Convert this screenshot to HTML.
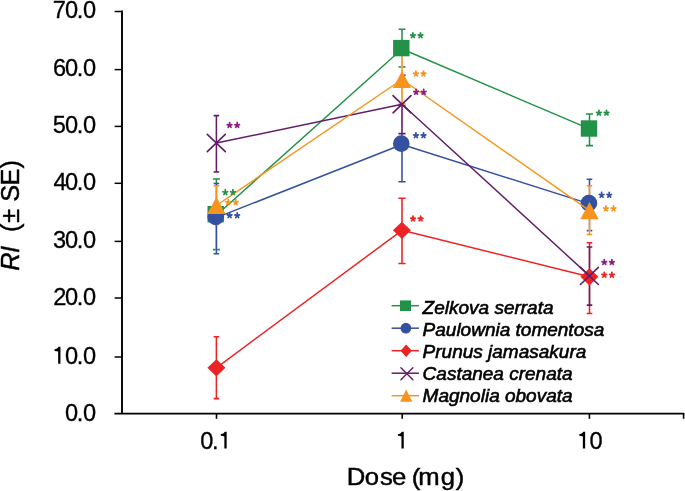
<!DOCTYPE html>
<html><head><meta charset="utf-8"><style>
html,body{margin:0;padding:0;background:#fff;width:685px;height:491px;overflow:hidden}
svg{display:block}
text{font-family:"Liberation Sans",sans-serif;fill:#000}
svg{will-change:transform}
.tl{font-size:23.6px;stroke:#000;stroke-width:0.3px}
.at{font-size:24px;stroke:#000;stroke-width:0.45px}
.at2{font-size:25.3px;stroke:#000;stroke-width:0.45px}
.lg{font-size:19px;font-style:italic;stroke:#000;stroke-width:0.6px}
</style></head><body>
<svg width="685" height="491" viewBox="0 0 685 491">
<line x1="122" y1="10.6" x2="122" y2="413.6" stroke="#000" stroke-width="1.9"/>
<line x1="114.4" y1="413.6" x2="684.4" y2="413.6" stroke="#000" stroke-width="1.6"/>
<line x1="114.6" y1="11.50" x2="122" y2="11.50" stroke="#000" stroke-width="1.5"/>
<line x1="114.6" y1="69.60" x2="122" y2="69.60" stroke="#000" stroke-width="1.5"/>
<line x1="114.6" y1="126.40" x2="122" y2="126.40" stroke="#000" stroke-width="1.5"/>
<line x1="114.6" y1="183.30" x2="122" y2="183.30" stroke="#000" stroke-width="1.5"/>
<line x1="114.6" y1="241.40" x2="122" y2="241.40" stroke="#000" stroke-width="1.5"/>
<line x1="114.6" y1="298.00" x2="122" y2="298.00" stroke="#000" stroke-width="1.5"/>
<line x1="114.6" y1="357.00" x2="122" y2="357.00" stroke="#000" stroke-width="1.5"/>
<line x1="216.5" y1="413.6" x2="216.5" y2="418.8" stroke="#000" stroke-width="1.6"/>
<line x1="402.2" y1="413.6" x2="402.2" y2="418.8" stroke="#000" stroke-width="1.6"/>
<line x1="589.4" y1="413.6" x2="589.4" y2="418.8" stroke="#000" stroke-width="1.6"/>
<line x1="683.6" y1="413.6" x2="683.6" y2="418.8" stroke="#000" stroke-width="1.6"/>
<text x="52.70 64.88 76.65 82.88" y="18.20" class="tl">70.0</text>
<text x="52.91 64.88 76.65 82.88" y="75.67" class="tl">60.0</text>
<text x="52.77 64.88 76.65 82.88" y="133.14" class="tl">50.0</text>
<text x="53.59 64.88 76.65 82.88" y="190.21" class="tl">40.0</text>
<text x="52.91 64.88 76.65 82.88" y="248.08" class="tl">30.0</text>
<text x="53.19 64.88 76.65 82.88" y="305.25" class="tl">20.0</text>
<path d="M60.45 346.82V363.72H58.15V351.52Q56.90 351.02 54.60 350.92V349.32Q57.50 349.02 58.70 346.82Z" fill="#000"/>
<text x="64.88 76.65 82.88" y="363.72" class="tl">0.0</text>
<text x="64.88 76.65 82.88" y="420.99" class="tl">0.0</text>
<text x="200.28 212.05" y="448.6" class="tl">0.</text>
<path d="M226.65 431.70V448.60H224.35V436.40Q223.10 435.90 220.80 435.80V434.20Q223.70 433.90 224.90 431.70Z" fill="#000"/>
<path d="M403.75 431.70V448.60H401.45V436.40Q400.20 435.90 397.90 435.80V434.20Q400.80 433.90 402.00 431.70Z" fill="#000"/>
<path d="M585.15 431.70V448.60H582.85V436.40Q581.60 435.90 579.30 435.80V434.20Q582.20 433.90 583.40 431.70Z" fill="#000"/>
<text x="589.58" y="448.6" class="tl">0</text>
<text transform="scale(1.07,1)" x="324.01 340.95 355.22 366.28 373.83 384.77 390.94 411.89 426.02" y="485.1" class="at">Dose (mg)</text>
<text transform="translate(19.0,0) rotate(-90)" y="0" class="at2"><tspan x="-270.66 -252.98" font-style="italic">RI</tspan><tspan x="-240 -235 -231.92 -222.78 -210 -201.8 -185.4 -168.55">&#160;&#160;(± SE)</tspan></text>
<path d="M216.4 179.0V249.6" stroke="#fff" stroke-width="1.7" fill="none"/>
<path d="M216.4 179.0V249.6M212.90 179.0H219.90M212.90 249.6H219.90" stroke="#229248" stroke-width="1.55" fill="none"/>
<path d="M402.0 29.2V66.9" stroke="#fff" stroke-width="1.7" fill="none"/>
<path d="M402.0 29.2V66.9M398.50 29.2H405.50M398.50 66.9H405.50" stroke="#229248" stroke-width="1.55" fill="none"/>
<path d="M589.5 114.0V145.6" stroke="#fff" stroke-width="1.7" fill="none"/>
<path d="M589.5 114.0V145.6M586.00 114.0H593.00M586.00 145.6H593.00" stroke="#229248" stroke-width="1.55" fill="none"/>
<path d="M216.4 183.4V253.7" stroke="#fff" stroke-width="1.7" fill="none"/>
<path d="M216.4 183.4V253.7M213.60 183.4H219.20M213.60 253.7H219.20" stroke="#3450a0" stroke-width="1.55" fill="none"/>
<path d="M402.0 105.7V181.7" stroke="#fff" stroke-width="1.7" fill="none"/>
<path d="M402.0 105.7V181.7M398.40 105.7H405.60M398.40 181.7H405.60" stroke="#3450a0" stroke-width="1.55" fill="none"/>
<path d="M589.5 179.3V230.6" stroke="#fff" stroke-width="1.7" fill="none"/>
<path d="M589.5 179.3V230.6M586.70 179.3H592.30M586.70 230.6H592.30" stroke="#3450a0" stroke-width="1.55" fill="none"/>
<path d="M216.4 336.7V398.6" stroke="#fff" stroke-width="1.7" fill="none"/>
<path d="M216.4 336.7V398.6M213.60 336.7H219.20M213.60 398.6H219.20" stroke="#ec2224" stroke-width="1.55" fill="none"/>
<path d="M402.0 198.2V263.5" stroke="#fff" stroke-width="1.7" fill="none"/>
<path d="M402.0 198.2V263.5M398.40 198.2H405.60M398.40 263.5H405.60" stroke="#ec2224" stroke-width="1.55" fill="none"/>
<path d="M589.5 242.8V313.4" stroke="#fff" stroke-width="1.7" fill="none"/>
<path d="M589.5 242.8V313.4M586.70 242.8H592.30M586.70 313.4H592.30" stroke="#ec2224" stroke-width="1.55" fill="none"/>
<path d="M216.4 115.6V171.9" stroke="#fff" stroke-width="1.7" fill="none"/>
<path d="M216.4 115.6V171.9M213.60 115.6H219.20M213.60 171.9H219.20" stroke="#621d67" stroke-width="1.55" fill="none"/>
<path d="M402.0 75.3V133.6" stroke="#fff" stroke-width="1.7" fill="none"/>
<path d="M402.0 75.3V133.6M400.20 75.3H405.60M398.40 133.6H405.60" stroke="#621d67" stroke-width="1.55" fill="none"/>
<path d="M589.5 246.9V305.1" stroke="#fff" stroke-width="1.7" fill="none"/>
<path d="M589.5 246.9V305.1M586.70 246.9H592.30M586.70 305.1H592.30" stroke="#621d67" stroke-width="1.55" fill="none"/>
<path d="M216.4 185.8V224.4" stroke="#fff" stroke-width="1.7" fill="none"/>
<path d="M216.4 185.8V224.4M213.60 185.8H219.20M213.60 224.4H219.20" stroke="#f7941e" stroke-width="1.55" fill="none"/>
<path d="M402.0 55.0V104.0" stroke="#fff" stroke-width="1.7" fill="none"/>
<path d="M402.0 55.0V104.0M398.40 55.0H405.60M398.40 104.0H405.60" stroke="#f7941e" stroke-width="1.55" fill="none"/>
<path d="M589.5 185.7V234.4" stroke="#fff" stroke-width="1.7" fill="none"/>
<path d="M589.5 185.7V234.4M586.70 185.7H592.30M586.70 234.4H592.30" stroke="#f7941e" stroke-width="1.55" fill="none"/>
<polyline points="216.40,215.20 402.00,49.00 589.50,128.90" stroke="#229248" stroke-width="1.45" fill="none" stroke-linejoin="round"/>
<rect x="207.50" y="206.00" width="16.4" height="16.4" fill="#229248"/>
<rect x="393.10" y="39.90" width="16.4" height="16.4" fill="#229248"/>
<rect x="580.80" y="120.30" width="16.4" height="16.4" fill="#229248"/>
<polyline points="216.40,217.70 402.00,144.50 589.50,203.90" stroke="#3450a0" stroke-width="1.45" fill="none" stroke-linejoin="round"/>
<circle cx="215.70" cy="216.90" r="8.35" fill="#3450a0"/>
<circle cx="401.30" cy="143.70" r="8.35" fill="#3450a0"/>
<circle cx="588.90" cy="203.20" r="8.35" fill="#3450a0"/>
<polyline points="216.40,367.80 402.00,230.30 589.50,276.80" stroke="#ec2224" stroke-width="1.45" fill="none" stroke-linejoin="round"/>
<path d="M216.40 359.20L225.40 367.80L216.40 376.40L207.40 367.80Z" fill="#ec2224"/>
<path d="M401.90 221.70L410.90 230.30L401.90 238.90L392.90 230.30Z" fill="#ec2224"/>
<path d="M589.40 268.20L598.40 276.80L589.40 285.40L580.40 276.80Z" fill="#ec2224"/>
<polyline points="216.40,143.00 402.00,104.20 589.50,275.90" stroke="#621d67" stroke-width="1.45" fill="none" stroke-linejoin="round"/>
<path d="M207.30 134.40L225.30 151.60M207.30 151.60L225.30 134.40" stroke="#621d67" stroke-width="1.6" stroke-linecap="round"/>
<path d="M393.00 95.60L411.00 112.80M393.00 112.80L411.00 95.60" stroke="#621d67" stroke-width="1.6" stroke-linecap="round"/>
<path d="M580.40 267.30L598.40 284.50M580.40 284.50L598.40 267.30" stroke="#621d67" stroke-width="1.6" stroke-linecap="round"/>
<polyline points="216.40,205.50 402.00,79.50 589.50,210.60" stroke="#f7941e" stroke-width="1.45" fill="none" stroke-linejoin="round"/>
<path d="M216.40 196.90L225.60 214.10L207.20 214.10Z" fill="#f7941e"/>
<path d="M402.00 70.90L411.20 88.10L392.80 88.10Z" fill="#f7941e"/>
<path d="M589.50 202.00L598.70 219.20L580.30 219.20Z" fill="#f7941e"/>
<path d="M225.30 192.50L225.30 189.70M225.30 192.50L227.58 191.76M225.30 192.50L226.71 194.44M225.30 192.50L223.89 194.44M225.30 192.50L223.02 191.76" stroke="#229248" stroke-width="1.75" stroke-linecap="round" fill="none"/>
<path d="M232.90 192.50L232.90 189.70M232.90 192.50L235.18 191.76M232.90 192.50L234.31 194.44M232.90 192.50L231.49 194.44M232.90 192.50L230.62 191.76" stroke="#229248" stroke-width="1.75" stroke-linecap="round" fill="none"/>
<path d="M228.20 202.50L228.20 199.70M228.20 202.50L230.48 201.76M228.20 202.50L229.61 204.44M228.20 202.50L226.79 204.44M228.20 202.50L225.92 201.76" stroke="#f7941e" stroke-width="1.75" stroke-linecap="round" fill="none"/>
<path d="M235.80 202.50L235.80 199.70M235.80 202.50L238.08 201.76M235.80 202.50L237.21 204.44M235.80 202.50L234.39 204.44M235.80 202.50L233.52 201.76" stroke="#f7941e" stroke-width="1.75" stroke-linecap="round" fill="none"/>
<path d="M229.60 215.60L229.60 212.80M229.60 215.60L231.88 214.86M229.60 215.60L231.01 217.54M229.60 215.60L228.19 217.54M229.60 215.60L227.32 214.86" stroke="#3450a0" stroke-width="1.75" stroke-linecap="round" fill="none"/>
<path d="M237.20 215.60L237.20 212.80M237.20 215.60L239.48 214.86M237.20 215.60L238.61 217.54M237.20 215.60L235.79 217.54M237.20 215.60L234.92 214.86" stroke="#3450a0" stroke-width="1.75" stroke-linecap="round" fill="none"/>
<path d="M229.60 125.40L229.60 122.60M229.60 125.40L231.88 124.66M229.60 125.40L231.01 127.34M229.60 125.40L228.19 127.34M229.60 125.40L227.32 124.66" stroke="#8a1c8c" stroke-width="1.75" stroke-linecap="round" fill="none"/>
<path d="M237.20 125.40L237.20 122.60M237.20 125.40L239.48 124.66M237.20 125.40L238.61 127.34M237.20 125.40L235.79 127.34M237.20 125.40L234.92 124.66" stroke="#8a1c8c" stroke-width="1.75" stroke-linecap="round" fill="none"/>
<path d="M412.90 35.60L412.90 32.80M412.90 35.60L415.18 34.86M412.90 35.60L414.31 37.54M412.90 35.60L411.49 37.54M412.90 35.60L410.62 34.86" stroke="#229248" stroke-width="1.75" stroke-linecap="round" fill="none"/>
<path d="M420.50 35.60L420.50 32.80M420.50 35.60L422.78 34.86M420.50 35.60L421.91 37.54M420.50 35.60L419.09 37.54M420.50 35.60L418.22 34.86" stroke="#229248" stroke-width="1.75" stroke-linecap="round" fill="none"/>
<path d="M415.90 73.90L415.90 71.10M415.90 73.90L418.18 73.16M415.90 73.90L417.31 75.84M415.90 73.90L414.49 75.84M415.90 73.90L413.62 73.16" stroke="#f7941e" stroke-width="1.75" stroke-linecap="round" fill="none"/>
<path d="M423.50 73.90L423.50 71.10M423.50 73.90L425.78 73.16M423.50 73.90L424.91 75.84M423.50 73.90L422.09 75.84M423.50 73.90L421.22 73.16" stroke="#f7941e" stroke-width="1.75" stroke-linecap="round" fill="none"/>
<path d="M416.10 92.20L416.10 89.40M416.10 92.20L418.38 91.46M416.10 92.20L417.51 94.14M416.10 92.20L414.69 94.14M416.10 92.20L413.82 91.46" stroke="#8a1c8c" stroke-width="1.75" stroke-linecap="round" fill="none"/>
<path d="M423.70 92.20L423.70 89.40M423.70 92.20L425.98 91.46M423.70 92.20L425.11 94.14M423.70 92.20L422.29 94.14M423.70 92.20L421.42 91.46" stroke="#8a1c8c" stroke-width="1.75" stroke-linecap="round" fill="none"/>
<path d="M415.90 135.60L415.90 132.80M415.90 135.60L418.18 134.86M415.90 135.60L417.31 137.54M415.90 135.60L414.49 137.54M415.90 135.60L413.62 134.86" stroke="#3450a0" stroke-width="1.75" stroke-linecap="round" fill="none"/>
<path d="M423.50 135.60L423.50 132.80M423.50 135.60L425.78 134.86M423.50 135.60L424.91 137.54M423.50 135.60L422.09 137.54M423.50 135.60L421.22 134.86" stroke="#3450a0" stroke-width="1.75" stroke-linecap="round" fill="none"/>
<path d="M413.00 218.90L413.00 216.10M413.00 218.90L415.28 218.16M413.00 218.90L414.41 220.84M413.00 218.90L411.59 220.84M413.00 218.90L410.72 218.16" stroke="#ec2224" stroke-width="1.75" stroke-linecap="round" fill="none"/>
<path d="M420.60 218.90L420.60 216.10M420.60 218.90L422.88 218.16M420.60 218.90L422.01 220.84M420.60 218.90L419.19 220.84M420.60 218.90L418.32 218.16" stroke="#ec2224" stroke-width="1.75" stroke-linecap="round" fill="none"/>
<path d="M598.90 113.10L598.90 110.30M598.90 113.10L601.18 112.36M598.90 113.10L600.31 115.04M598.90 113.10L597.49 115.04M598.90 113.10L596.62 112.36" stroke="#229248" stroke-width="1.75" stroke-linecap="round" fill="none"/>
<path d="M606.50 113.10L606.50 110.30M606.50 113.10L608.78 112.36M606.50 113.10L607.91 115.04M606.50 113.10L605.09 115.04M606.50 113.10L604.22 112.36" stroke="#229248" stroke-width="1.75" stroke-linecap="round" fill="none"/>
<path d="M601.60 195.20L601.60 192.40M601.60 195.20L603.88 194.46M601.60 195.20L603.01 197.14M601.60 195.20L600.19 197.14M601.60 195.20L599.32 194.46" stroke="#3450a0" stroke-width="1.75" stroke-linecap="round" fill="none"/>
<path d="M609.20 195.20L609.20 192.40M609.20 195.20L611.48 194.46M609.20 195.20L610.61 197.14M609.20 195.20L607.79 197.14M609.20 195.20L606.92 194.46" stroke="#3450a0" stroke-width="1.75" stroke-linecap="round" fill="none"/>
<path d="M605.90 208.70L605.90 205.90M605.90 208.70L608.18 207.96M605.90 208.70L607.31 210.64M605.90 208.70L604.49 210.64M605.90 208.70L603.62 207.96" stroke="#f7941e" stroke-width="1.75" stroke-linecap="round" fill="none"/>
<path d="M613.50 208.70L613.50 205.90M613.50 208.70L615.78 207.96M613.50 208.70L614.91 210.64M613.50 208.70L612.09 210.64M613.50 208.70L611.22 207.96" stroke="#f7941e" stroke-width="1.75" stroke-linecap="round" fill="none"/>
<path d="M604.30 262.40L604.30 259.60M604.30 262.40L606.58 261.66M604.30 262.40L605.71 264.34M604.30 262.40L602.89 264.34M604.30 262.40L602.02 261.66" stroke="#8a1c8c" stroke-width="1.75" stroke-linecap="round" fill="none"/>
<path d="M611.90 262.40L611.90 259.60M611.90 262.40L614.18 261.66M611.90 262.40L613.31 264.34M611.90 262.40L610.49 264.34M611.90 262.40L609.62 261.66" stroke="#8a1c8c" stroke-width="1.75" stroke-linecap="round" fill="none"/>
<path d="M604.30 275.10L604.30 272.30M604.30 275.10L606.58 274.36M604.30 275.10L605.71 277.04M604.30 275.10L602.89 277.04M604.30 275.10L602.02 274.36" stroke="#ec2224" stroke-width="1.75" stroke-linecap="round" fill="none"/>
<path d="M611.90 275.10L611.90 272.30M611.90 275.10L614.18 274.36M611.90 275.10L613.31 277.04M611.90 275.10L610.49 277.04M611.90 275.10L609.62 274.36" stroke="#ec2224" stroke-width="1.75" stroke-linecap="round" fill="none"/>
<line x1="391.6" y1="305.70" x2="418.9" y2="305.70" stroke="#229248" stroke-width="1.5"/>
<rect x="400.00" y="300.40" width="11" height="10.6" fill="#229248"/>
<text x="422.6" y="314.00" class="lg">Zelkova serrata</text>
<line x1="391.6" y1="328.20" x2="418.9" y2="328.20" stroke="#3450a0" stroke-width="1.5"/>
<circle cx="405.90" cy="328.20" r="5.4" fill="#3450a0"/>
<text x="422.6" y="336.05" class="lg">Paulownia tomentosa</text>
<line x1="391.6" y1="350.70" x2="418.9" y2="350.70" stroke="#ec2224" stroke-width="1.5"/>
<path d="M406.20 344.40L411.80 350.70L406.20 357.00L400.60 350.70Z" fill="#ec2224"/>
<text x="422.6" y="358.10" class="lg">Prunus jamasakura</text>
<line x1="391.6" y1="373.20" x2="418.9" y2="373.20" stroke="#621d67" stroke-width="1.5"/>
<path d="M400.90 367.80L412.90 379.80M400.90 379.80L412.90 367.80" stroke="#621d67" stroke-width="1.4" stroke-linecap="round"/>
<text x="422.6" y="380.15" class="lg">Castanea crenata</text>
<line x1="391.6" y1="395.70" x2="418.9" y2="395.70" stroke="#f7941e" stroke-width="1.5"/>
<path d="M406.20 389.50L412.30 401.80L400.10 401.80Z" fill="#f7941e"/>
<text x="422.6" y="402.20" class="lg">Magnolia obovata</text>
</svg>
</body></html>
